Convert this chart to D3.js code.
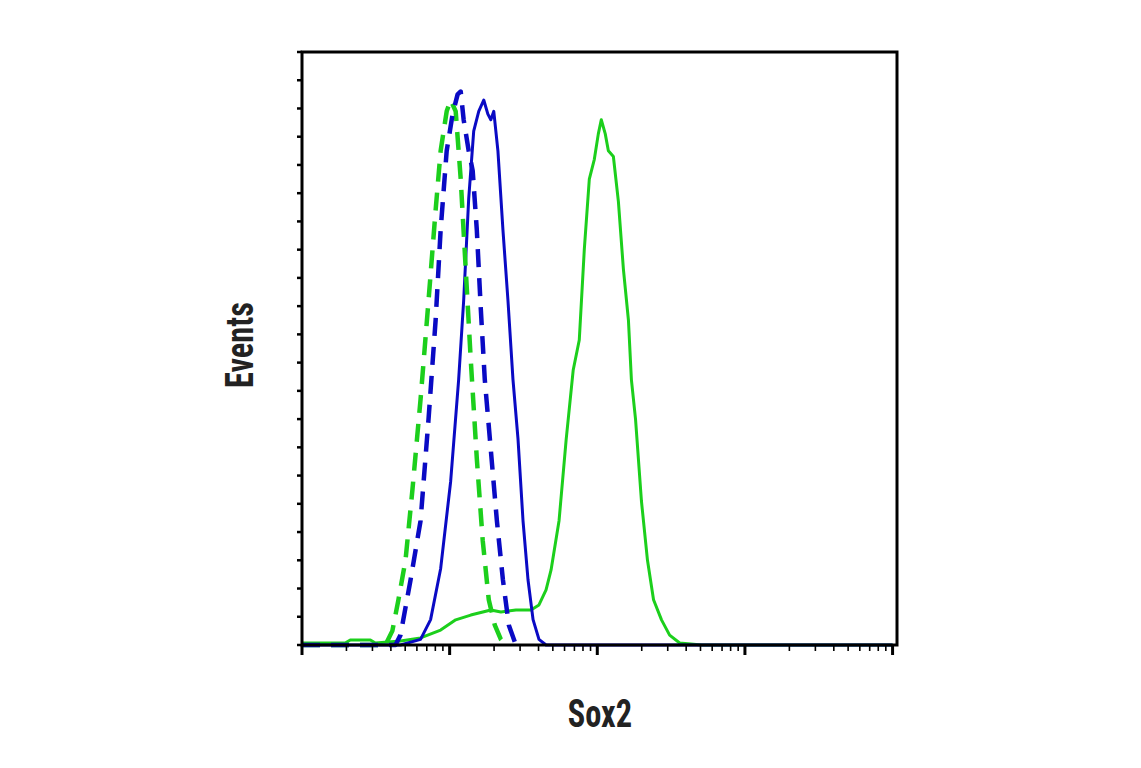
<!DOCTYPE html>
<html><head><meta charset="utf-8">
<script src="https://cdn.jsdelivr.net/npm/d3@7"></script>
<style>body{margin:0;background:#fff}</style>
</head><body><div id="chart"></div>
<script>
// x values are log10 of Sox2 intensity, y values are event counts
var blueSolidX = [1.0,1.667,1.803,1.871,1.939,2.007,2.061,2.095,2.129,2.163,2.197,2.231,2.259,2.279,2.299,2.327,2.361,2.395,2.429,2.463,2.497,2.531,2.565,2.605,2.653,5.0];
var blueSolidY = [0,0,2,9,27,58,94,122,158,182,189,193,188,186,189,175,147,122,94,73,44,23,9,2,0,0];
var blueDashX = [1,1.633,1.667,1.735,1.803,1.857,1.905,1.939,1.980,2.020,2.054,2.075,2.095,2.129,2.156,2.184,2.211,2.238,2.279,2.320,2.361,2.401,2.442,2.483];
var blueDashY = [0,0,3.5,23,44,80,115,147,175,188,195,196,186,175,168,147,119,94,69,44,23,7,1,0];
var greenDashX = [1,1.565,1.612,1.653,1.701,1.748,1.803,1.857,1.905,1.939,1.980,2.007,2.041,2.075,2.109,2.143,2.184,2.224,2.265,2.306,2.347,2.381];
var greenDashY = [0,0,5,16,30,55,87,122,154,175,189,193,189,165,133,101,66,37,16,7,2,0];
var greenSolidX = [1,1.293,1.327,1.463,1.497,1.667,1.803,1.939,2.041,2.143,2.279,2.347,2.449,2.551,2.605,2.653,2.687,2.741,2.789,2.837,2.878,2.912,2.946,2.980,3.007,3.027,3.054,3.075,3.109,3.143,3.177,3.211,3.231,3.259,3.299,3.340,3.381,3.435,3.490,3.558,3.707,5.0];
var greenSolidY = [0.7,0.7,1.8,1.8,0.7,1.4,2.5,5.3,8.9,10.6,12.4,11.7,12.4,12.4,14.2,19.5,26.6,44,72.6,97.4,108,140,165,172,181,186,181,175,173,157,133,115,94,80,51,30,16,8.9,3.5,0.7,0,0];

var yTicks = d3.range(0, 211, 10);
var series = [
	{x: greenSolidX, y: greenSolidY, color: "#1ccf1c", dash: null, w: 3},
	{x: blueSolidX, y: blueSolidY, color: "#0a0ac4", dash: null, w: 3},
	{x: greenDashX, y: greenDashY, color: "#1ccf1c", dash: "18,11", w: 4.5},
	{x: blueDashX, y: blueDashY, color: "#0a0ac4", dash: "18,11", w: 4.5}
];

var svg = d3.select("#chart").append("svg").attr("width", 1141).attr("height", 768);
var x = d3.scaleLog().domain([10, Math.pow(10, 5.03)]).range([302, 897]);
var y = d3.scaleLinear().domain([0, 210]).range([645, 52]);

var line = d3.line()
	.x(function(d) { return x(Math.pow(10, d[0])); })
	.y(function(d) { return y(d[1]); });

series.forEach(function(s) {
	var pts = s.x.map(function(v, i) { return [v, s.y[i]]; });
	svg.append("path").attr("d", line(pts))
		.attr("fill", "none").attr("stroke", s.color)
		.attr("stroke-width", s.w).attr("stroke-dasharray", s.dash)
		.attr("stroke-linejoin", "round");
});

// frame
svg.append("rect").attr("x", 302).attr("y", 52).attr("width", 595).attr("height", 593)
	.attr("fill", "none").attr("stroke", "#000").attr("stroke-width", 3);

// x axis ticks, log decades
var xt = x.ticks().filter(function(v) { return v <= 100000; });
svg.append("g").selectAll("line").data(xt).enter().append("line")
	.attr("x1", function(d) { return x(d); }).attr("x2", function(d) { return x(d); })
	.attr("y1", 645).attr("y2", function(d) {
		var m = Math.log10(d) % 1 === 0; return m ? 655 : 651; })
	.attr("stroke", "#000").attr("stroke-width", function(d) {
		return Math.log10(d) % 1 === 0 ? 3 : 1.6; });

svg.append("g").selectAll("line").data(yTicks).enter().append("line")
	.attr("x1", 297).attr("x2", 302)
	.attr("y1", function(d) { return y(d); }).attr("y2", function(d) { return y(d); })
	.attr("stroke", "#000").attr("stroke-width", 2.5);

var font = "'Liberation Sans Narrow','Arial Narrow','Roboto Condensed',sans-serif";
svg.append("text").attr("transform", "translate(600,727) scale(0.9,1.1)").attr("text-anchor", "middle")
	.style("font-family", font).style("font-weight", "bold").style("font-size", "36px")
	.attr("fill", "#222").text("Sox2");
svg.append("text").attr("transform", "translate(253,345) rotate(-90) scale(0.9,1.1)").attr("text-anchor", "middle")
	.style("font-family", font).style("font-weight", "bold").style("font-size", "36px")
	.attr("fill", "#222").text("Events");
</script></body></html>
